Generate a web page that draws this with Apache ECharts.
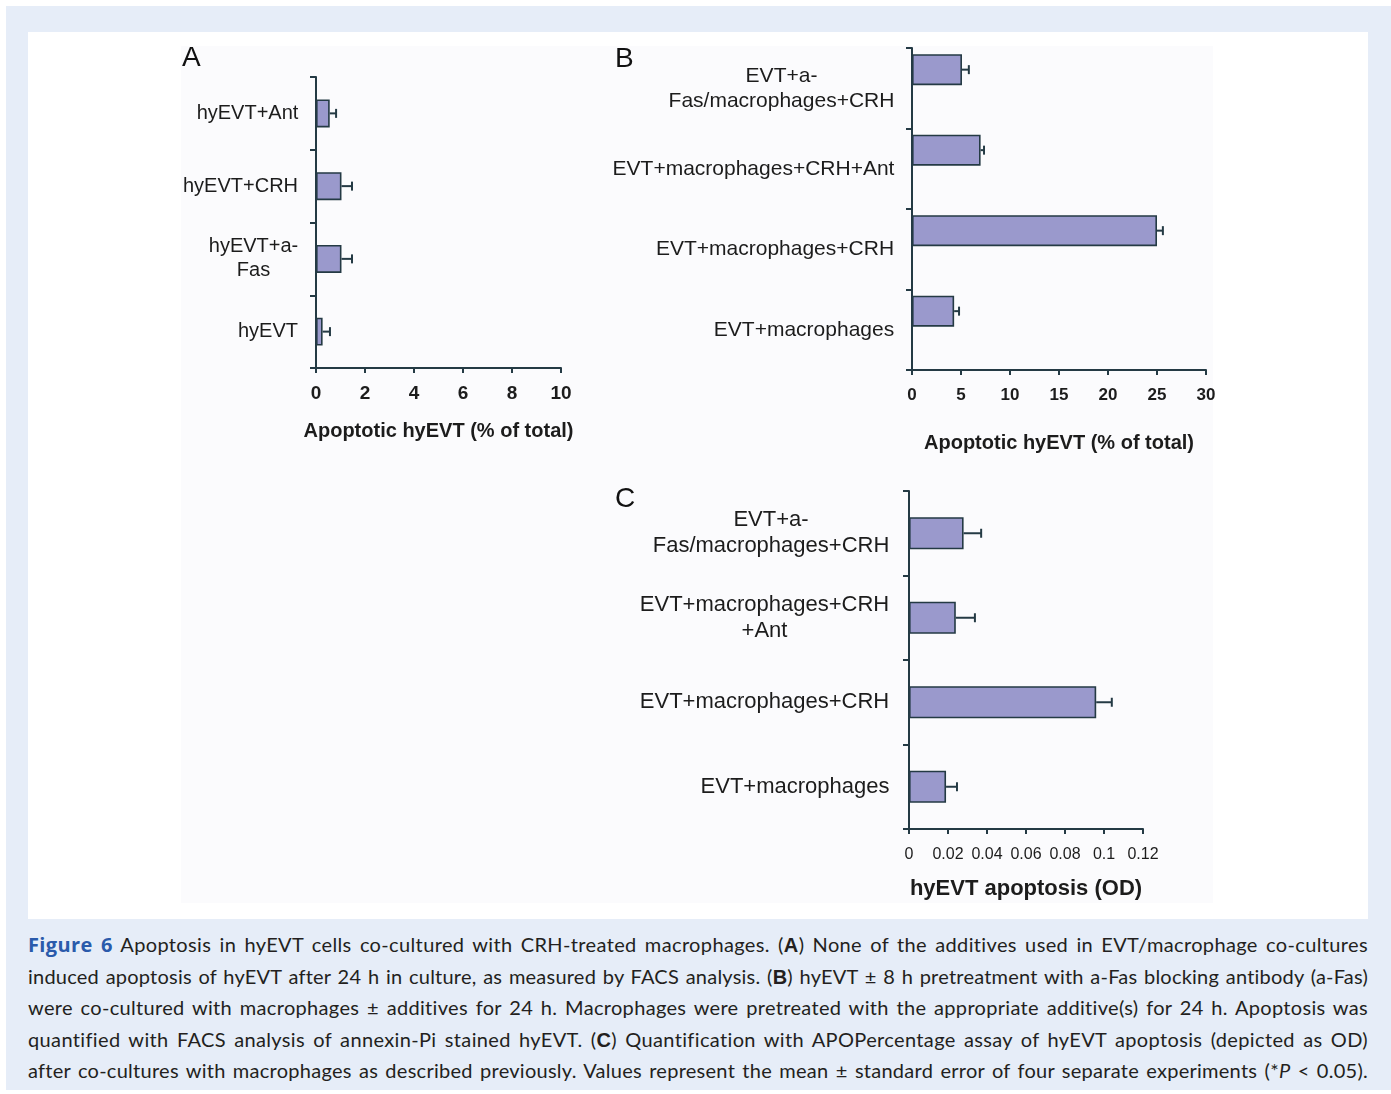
<!DOCTYPE html>
<html>
<head>
<meta charset="utf-8">
<script src="https://cdn.jsdelivr.net/npm/echarts@6/dist/echarts.min.js"></script>
<style>
  html, body { margin:0; padding:0; background:#fff; width:1391px; height:1094px; overflow:hidden; }
  #outer { position:absolute; left:6px; top:6px; width:1385px; height:1084px; background:#e6edf8; }
  #panel { position:absolute; left:28px; top:32px; width:1340px; height:887px; background:#fff; }
  #fig { position:absolute; left:181px; top:46px; width:1032px; height:857px; background:#fbfbfd; }
  #caption { position:absolute; left:28px; top:929px; width:1340px; font-family:"Lato","Open Sans",sans-serif; font-size:20px; color:#231f20; }
  #caption .ln { height:31.5px; line-height:31.5px; white-space:nowrap; }
  #caption .fig { color:#2a5aab; font-weight:bold; font-family:"Open Sans","Lato",sans-serif; }
  #caption b { font-family:"Liberation Sans",Arial,sans-serif; font-weight:bold; }
  #chart { position:absolute; left:0; top:0; width:1391px; height:1094px; }
</style>
</head>
<body>
<div id="outer"></div>
<div id="panel"></div>
<div id="fig"></div>
<div id="caption">
  <div class="ln"><span class="t"><span class="fig">Figure 6</span> Apoptosis in hyEVT cells co-cultured with CRH-treated macrophages. (<b>A</b>) None of the additives used in EVT/macrophage co-cultures</span></div>
  <div class="ln"><span class="t">induced apoptosis of hyEVT after 24 h in culture, as measured by FACS analysis. (<b>B</b>) hyEVT ± 8 h pretreatment with a-Fas blocking antibody (a-Fas)</span></div>
  <div class="ln"><span class="t">were co-cultured with macrophages ± additives for 24 h. Macrophages were pretreated with the appropriate additive(s) for 24 h. Apoptosis was</span></div>
  <div class="ln"><span class="t">quantified with FACS analysis of annexin-Pi stained hyEVT. (<b>C</b>) Quantification with APOPercentage assay of hyEVT apoptosis (depicted as OD)</span></div>
  <div class="ln"><span class="t">after co-cultures with macrophages as described previously. Values represent the mean ± standard error of four separate experiments (*<i>P</i> &lt; 0.05).</span></div>
</div>
<div id="chart"></div>
<script>
// ---------------- data ----------------
const catsA = ['hyEVT+Ant', 'hyEVT+CRH', 'hyEVT+a-\nFas', 'hyEVT'];
const valsA = [0.56, 1.04, 1.04, 0.27];
const errsA = [0.26, 0.43, 0.43, 0.30];
const ticksA = { min: 0, max: 10, interval: 2 };

const catsB = ['EVT+a-\nFas/macrophages+CRH', 'EVT+macrophages+CRH+Ant', 'EVT+macrophages+CRH', 'EVT+macrophages'];
const valsB = [5.1, 7.0, 25.0, 4.3];
const errsB = [0.7, 0.35, 0.6, 0.5];
const ticksB = { min: 0, max: 30, interval: 5 };

const catsC = ['EVT+a-\nFas/macrophages+CRH', 'EVT+macrophages+CRH\n+Ant', 'EVT+macrophages+CRH', 'EVT+macrophages'];
const valsC = [0.028, 0.024, 0.096, 0.019];
const errsC = [0.009, 0.0098, 0.008, 0.0056];
const ticksC = { min: 0, max: 0.12, interval: 0.02 };

const axisTitleAB = 'Apoptotic hyEVT (% of total)';
const axisTitleC = 'hyEVT apoptosis (OD)';

// ---------------- caption justification ----------------
document.querySelectorAll('#caption .ln').forEach(function (ln) {
  const span = ln.querySelector('.t');
  const text = span.textContent;
  const spaces = (text.match(/ /g) || []).length;
  let w = span.getBoundingClientRect().width;
  // spread half of the slack on letters, half on word gaps
  const ls = ((1340 - w) * 0.5) / text.length;
  span.style.letterSpacing = ls + 'px';
  w = span.getBoundingClientRect().width;
  span.style.wordSpacing = ((1340 - w) / spaces) + 'px';
});

// ---------------- chart ----------------
const FONT = '"Liberation Sans", Arial, sans-serif';
const TXT = '#1c1c1c';
const AX = '#243a44';
const BAR = '#9a99cc';

const mctx = document.createElement('canvas').getContext('2d');
function catAxisLabel(cats, size, lh, margin) {
  mctx.font = size + 'px ' + FONT;
  const rich = {};
  cats.forEach(function (c, i) {
    const lines = c.split('\n');
    const w = Math.max.apply(null, lines.map(function (l) { return mctx.measureText(l).width; }));
    rich['r' + i] = { width: Math.ceil(w) + 1, align: 'center', fontSize: size, lineHeight: lh, fontFamily: FONT, color: TXT };
  });
  return {
    margin: margin, fontSize: size, lineHeight: lh, fontFamily: FONT, color: TXT, align: 'right',
    formatter: function (v, i) {
      return v.split('\n').map(function (l) { return '{r' + i + '|' + l + '}'; }).join('\n');
    },
    rich: rich
  };
}

function errSeries(idx, vals, errs, cats, dyFrac) {
  return {
    type: 'custom', xAxisIndex: idx, yAxisIndex: idx, z: 5, silent: true,
    data: cats.map(function (c, i) { return [vals[i], i, errs[i]]; }),
    encode: { x: 0, y: 1 },
    renderItem: function (params, api) {
      const v = api.value(0), e = api.value(2), ci = api.value(1);
      const p0 = api.coord([v, ci]);
      const p1 = api.coord([v + e, ci]);
      const band = api.size([0, 1])[1];
      const y = p0[1] + dyFrac * band;
      const st = { stroke: AX, lineWidth: 2 };
      return {
        type: 'group',
        children: [
          { type: 'line', shape: { x1: p0[0], y1: y, x2: p1[0], y2: y }, style: st },
          { type: 'line', shape: { x1: p1[0], y1: y - 4.5, x2: p1[0], y2: y + 4.5 }, style: st }
        ]
      };
    }
  };
}

function valueAxis(idx, t, title, labelSize, labelBold, labelMargin, titleSize, nameGap) {
  return {
    type: 'value', gridIndex: idx, min: t.min, max: t.max, interval: t.interval,
    splitLine: { show: false },
    axisLine: { show: true, lineStyle: { color: AX, width: 2 } },
    axisTick: { show: true, length: 5, lineStyle: { color: AX, width: 2 } },
    axisLabel: { margin: labelMargin, fontSize: labelSize, fontWeight: labelBold ? 'bold' : 'normal', fontFamily: FONT, color: TXT },
    name: title, nameLocation: 'middle', nameGap: nameGap,
    nameTextStyle: { fontSize: titleSize, fontWeight: 'bold', fontFamily: FONT, color: TXT }
  };
}
function catAxis(idx, cats, size, lh, margin) {
  return {
    type: 'category', gridIndex: idx, data: cats, inverse: true,
    axisLine: { show: true, lineStyle: { color: AX, width: 2 } },
    axisTick: { show: true, length: 6, alignWithLabel: false, lineStyle: { color: AX, width: 2 } },
    axisLabel: catAxisLabel(cats, size, lh, margin)
  };
}
const barStyle = { color: BAR, borderColor: AX, borderWidth: 1.6 };

const option = {
  animation: false,
  grid: [
    { left: 316, top: 77, width: 245, height: 291 },
    { left: 912, top: 48, width: 294, height: 322 },
    { left: 909, top: 491, width: 234, height: 338 }
  ],
  xAxis: [
    valueAxis(0, ticksA, axisTitleAB, 19, true, 16, 20, 53),
    valueAxis(1, ticksB, axisTitleAB, 17, true, 17, 20, 63),
    valueAxis(2, ticksC, axisTitleC, 16, false, 18, 22, 49)
  ],
  yAxis: [
    catAxis(0, catsA, 20, 24, 17),
    catAxis(1, catsB, 21, 25, 17),
    catAxis(2, catsC, 22, 26, 19)
  ],
  graphic: [
    { type: 'text', left: 182, top: 44, style: { text: 'A', fontSize: 28, fontFamily: FONT, fill: '#111' } },
    { type: 'text', left: 615, top: 45, style: { text: 'B', fontSize: 28, fontFamily: FONT, fill: '#111' } },
    { type: 'text', left: 615, top: 485, style: { text: 'C', fontSize: 28, fontFamily: FONT, fill: '#111' } }
  ],
  series: [
    { type: 'bar', xAxisIndex: 0, yAxisIndex: 0, data: valsA, barWidth: 28, itemStyle: barStyle },
    errSeries(0, valsA, errsA, catsA, 0),
    { type: 'bar', xAxisIndex: 1, yAxisIndex: 1, data: valsB, barWidth: 31, barGap: '20%', itemStyle: barStyle },
    { type: 'bar', xAxisIndex: 1, yAxisIndex: 1, data: [], barWidth: 31, itemStyle: barStyle },
    errSeries(1, valsB, errsB, catsB, -18.6 / 80.5),
    { type: 'bar', xAxisIndex: 2, yAxisIndex: 2, data: valsC, barWidth: 32, itemStyle: barStyle },
    errSeries(2, valsC, errsC, catsC, 0)
  ]
};
const chart = echarts.init(document.getElementById('chart'), null, { renderer: 'canvas' });
chart.setOption(option);
</script>
</body>
</html>
